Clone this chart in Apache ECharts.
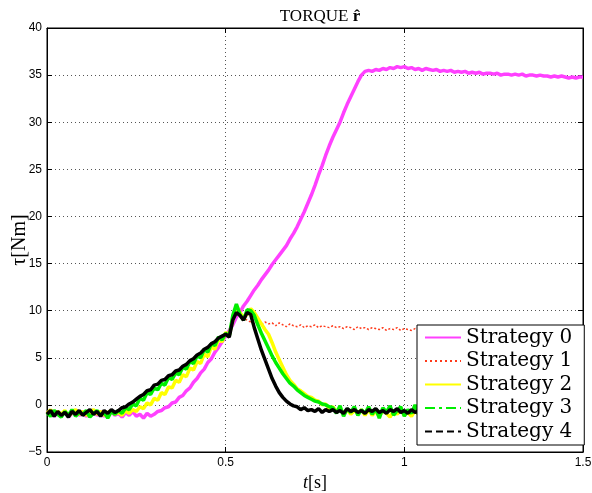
<!DOCTYPE html>
<html>
<head>
<meta charset="utf-8">
<script src="https://cdn.jsdelivr.net/npm/echarts@6/dist/echarts.min.js"></script>
<style>html,body{margin:0;padding:0;background:#fff}#c{width:592px;height:493px}</style>
</head>
<body>
<div id="c"></div>
<script>
// time step of samples (s)
const dt = 0.01;
const seriesNames = ['Strategy 0','Strategy 1','Strategy 2','Strategy 3','Strategy 4'];
const xTicks = [0, 0.5, 1, 1.5];
const yTicks = [-5, 0, 5, 10, 15, 20, 25, 30, 35, 40];

const s0 = [
-1.0,-0.6,-1.2,-0.8,-1.1,-0.7,-1.3,-0.9,-0.6,-1.1,
-0.8,-1.2,-0.9,-0.6,-1.1,-0.8,-1.2,-0.9,-0.7,-1.1,
-0.9,-1.3,-0.8,-1.1,-0.7,-1.2,-1.0,-1.4,-0.9,-1.2,
-1.0,-0.7,-0.6,-0.3,-0.2,0.2,0.3,0.8,1.0,1.5,
1.8,2.4,2.8,3.4,3.8,4.5,4.9,5.6,6.1,6.7,
7.3,7.9,8.5,9.3,9.8,10.5,11.0,11.6,12.2,12.7,
13.3,13.8,14.3,14.9,15.4,15.9,16.4,16.9,17.6,18.2,
18.9,19.7,20.5,21.4,22.3,23.3,24.4,25.4,26.5,27.5,
28.4,29.2,30.0,31.0,31.9,32.7,33.5,34.3,35.0,35.4,
35.5,35.4,35.6,35.5,35.7,35.6,35.8,35.7,35.9,35.8,
35.9,35.7,35.8,35.6,35.7,35.5,35.7,35.6,35.5,35.6,
35.4,35.5,35.4,35.5,35.3,35.4,35.3,35.4,35.2,35.3,
35.2,35.3,35.1,35.2,35.2,35.1,35.2,35.0,35.1,35.1,
35.0,35.1,35.0,35.1,34.9,35.0,35.0,34.9,35.0,34.9,
34.9,34.8,34.9,34.8,34.9,34.8,34.7,34.8,34.7,34.8,34.8
];
const s1 = [
-0.9,-1.1,-0.7,-1.0,-1.2,-0.8,-1.0,-0.6,-1.1,-0.9,
-0.9,-0.7,-1.2,-0.8,-0.7,-1.0,-0.9,-1.2,-0.8,-0.9,
-0.7,-0.8,-0.4,-0.4,0.0,0.0,0.6,0.6,1.2,1.2,
1.7,1.7,2.2,2.2,2.8,2.8,3.3,3.3,3.9,3.9,
4.5,4.5,5.1,5.1,5.7,5.7,6.4,6.4,7.0,7.0,
7.5,7.5,9.2,10.0,9.5,9.2,
9.0,8.8,8.6,8.9,
8.5,8.8,8.6,8.7,8.4,8.7,8.5,8.3,8.6,8.4,
8.3,8.5,8.2,8.4,8.3,8.5,8.2,8.4,8.3,8.2,
8.4,8.2,8.3,8.1,8.3,8.2,8.0,8.3,8.1,8.2,
8.0,8.2,8.1,8.0,8.2,7.9,8.1,8.0,8.2,7.9,
8.1,8.0,7.9,8.1,8.0,8.2,7.9,8.0,8.1,7.9,
8.1,8.0,8.2,7.9,8.1,8.0,7.9,8.1,8.0,8.2,
8.0,8.1,7.9,8.0,8.2,8.0,8.1,7.9,8.1,8.0,
8.2,8.0,8.1,7.9,8.1,8.2,8.0,8.1,8.0,8.2,
8.1,8.0,8.2,8.1,8.0,8.2,8.1,8.3,8.1,8.2,8.3
];
const s2 = [
-0.9,-0.5,-1.1,-0.7,-1.0,-0.6,-1.2,-0.8,-0.5,-1.0,
-0.7,-1.1,-0.8,-0.5,-1.0,-0.7,-1.1,-0.8,-0.6,-1.0,
-0.8,-1.1,-0.6,-0.9,-0.5,-0.7,-0.2,-0.4,0.2,0.0,
0.7,0.5,1.3,1.1,1.9,1.8,2.6,2.4,3.2,3.0,
3.9,3.7,4.6,4.4,5.4,5.1,6.2,5.9,7.0,6.7,
7.7,7.4,9.0,10.5,9.8,9.3,9.6,10.2,9.8,9.2,
8.6,8.0,7.5,6.6,5.6,4.8,4.0,3.2,2.6,2.2,
1.7,1.5,1.2,0.9,0.8,0.5,0.4,0.0,0.1,-0.4,
-0.2,-0.7,-0.4,-0.9,-0.5,-1.0,-0.6,-0.9,-0.5,-1.1,
-0.5,-1.1,-0.7,-1.2,-0.6,-0.9,-1.3,-0.6,-1.0,-0.5,
-1.1,-0.8,-1.2,-0.6,-1.0,-0.7,-1.3,-0.8,-0.5,-1.1,
-0.7,-1.0,-0.6,-1.2,-0.8,-1.1,-0.5,-0.9,-1.2,-0.7,
-1.0,-0.6,-1.1,-0.8,-1.3,-0.7,-1.0,-0.5,-1.1,-0.8,
-1.2,-0.6,-0.9,-1.1,-0.7,-1.0,-0.6,-1.2,-0.8,-0.5,
-1.1,-0.7,-1.0,-0.6,-1.2,-0.8,-1.0,-0.6,-1.1,-0.8,-0.9
];
const s3 = [
-0.8,-1.2,-0.6,-1.0,-1.3,-0.7,-1.1,-0.5,-1.2,-0.8,
-1.0,-0.6,-1.3,-0.9,-0.6,-1.1,-0.8,-1.4,-0.7,-1.0,
-0.6,-0.9,-0.3,-0.5,0.1,-0.1,0.7,0.5,1.3,1.1,
1.8,1.6,2.3,2.1,2.9,2.7,3.4,3.2,4.0,3.8,
4.6,4.4,5.2,5.0,5.9,5.6,6.5,6.3,7.2,6.9,
7.6,7.3,9.5,10.7,9.6,9.0,10.1,10.0,9.5,8.5,
7.6,6.8,6.0,5.2,4.5,3.9,3.3,2.8,2.3,2.0,
1.6,1.3,1.0,0.8,0.6,0.4,0.3,0.1,0.0,-0.2,
-0.3,-0.9,-0.1,-1.2,-0.4,-0.8,-0.2,-1.1,-0.5,-0.9,
-0.2,-1.0,-0.4,-1.4,-0.3,-0.8,-0.1,-1.1,-0.6,-0.2,
-1.2,-0.5,-0.9,0.0,-1.0,-0.4,-1.3,-0.6,-0.2,-1.0,
-0.5,-1.5,-0.3,-0.8,0.1,-1.1,-0.4,-0.9,-0.2,-1.2,
-0.6,-0.1,-1.0,-0.5,-1.3,-0.3,-0.8,0.0,-1.1,-0.4,
-0.9,-0.2,-1.2,-0.6,-0.3,-1.0,-0.5,-1.4,-0.2,-0.8,
-0.4,-1.1,-0.1,-0.9,-0.5,-1.2,-0.3,-0.8,-0.6,-1.0,-0.5
];
const s4 = [
-1.0,-0.6,-1.2,-0.7,-1.1,-0.8,-1.3,-0.7,-1.0,-0.6,
-1.1,-0.8,-0.5,-1.0,-0.7,-1.2,-0.6,-0.9,-0.5,-0.8,
-0.6,-0.3,-0.2,0.1,0.3,0.6,0.9,1.1,1.5,1.6,
2.1,2.2,2.6,2.7,3.1,3.2,3.6,3.7,4.1,4.3,
4.7,4.9,5.3,5.5,5.9,6.1,6.5,6.7,7.1,7.3,
7.5,7.2,9.0,9.8,9.5,9.0,9.8,9.6,8.2,7.0,
5.8,4.8,3.8,2.8,2.0,1.3,0.8,0.4,0.1,-0.1,
-0.2,-0.5,-0.3,-0.6,-0.5,-0.7,-0.4,-0.8,-0.5,-0.7,
-0.5,-0.8,-0.6,-0.9,-0.4,-0.7,-0.5,-0.8,-0.6,-0.9,
-0.5,-0.7,-0.4,-0.8,-0.6,-0.9,-0.5,-0.7,-0.4,-0.8,
-0.6,-0.9,-0.5,-0.8,-0.6,-0.7,-0.4,-0.8,-0.5,-0.9,
-0.6,-0.7,-0.5,-0.8,-0.4,-0.9,-0.6,-0.7,-0.5,-0.8,
-0.6,-0.9,-0.5,-0.7,-0.4,-0.8,-0.6,-0.9,-0.5,-0.7,
-0.6,-0.8,-0.4,-0.9,-0.5,-0.7,-0.6,-0.8,-0.5,-0.9,
-0.6,-0.7,-0.5,-0.8,-0.6,-0.9,-0.7,-0.8,-0.6,-0.9,-0.7
];
const allValues = [s0, s1, s2, s3, s4];

const colors = ['#ff40ff', '#ff3a1a', '#ffff00', '#00ee00', '#000000'];
const plotTypes = ['solid', [2, 2], 'solid', 'solid', 'solid'];
const legendTypes = ['solid', [2, 3], 'solid', [10, 4, 3, 4], [7, 4]];

const toPairs = arr => arr.map((v, i) => [Math.round(i * dt * 100) / 100, v]);

const chart = echarts.init(document.getElementById('c'), null, {renderer: 'canvas'});
const fmtY = v => (v < 0 ? '\u2212' + Math.abs(v) : String(v));

const mkAxisLine = () => ({show: true, onZero: false, lineStyle: {color: '#000', width: 1}});
const mkTick = () => ({show: true, inside: true, length: 5, lineStyle: {color: '#000'}});

chart.setOption({
  animation: false,
  backgroundColor: '#fff',
  title: {
    text: 'TORQUE {b|r\u0302}',
    left: 315, top: 3, textAlign: 'center',
    textStyle: {
      fontFamily: 'Liberation Serif', fontSize: 17, fontWeight: 'normal', color: '#000',
      rich: {b: {fontFamily: 'Liberation Serif', fontSize: 17, fontWeight: 'bold', color: '#000'}}
    }
  },
  grid: {left: 47, right: 9, top: 28, bottom: 41, containLabel: false, outerBoundsMode: 'none',
    show: true, borderColor: '#000', borderWidth: 1, backgroundColor: '#fff'},
  legend: {
    orient: 'vertical', left: 417, top: 325, z: 100, zlevel: 0,
    backgroundColor: '#fff', borderColor: '#000', borderWidth: 1,
    padding: [1, 12, 2, 7], itemGap: 0.5, itemWidth: 36, itemHeight: 14,
    textStyle: {fontFamily: 'DejaVu Serif', fontSize: 20, color: '#000', lineHeight: 23},
    data: seriesNames.map((n, i) => ({
      name: n,
      itemStyle: {opacity: 0, color: 'rgba(0,0,0,0)', borderWidth: 0},
      lineStyle: {type: legendTypes[i], width: 2, color: colors[i]}
    }))
  },
  xAxis: [
    {
      type: 'value', min: 0, max: 1.5, interval: 0.5, position: 'bottom',
      axisLine: mkAxisLine(), axisTick: mkTick(),
      name: '{i|t}[s]', nameLocation: 'middle', nameGap: 15,
      nameTextStyle: {fontFamily: 'Liberation Serif', fontSize: 18, color: '#000',
        rich: {i: {fontFamily: 'Liberation Serif', fontStyle: 'italic', fontSize: 18, color: '#000'}}},
      axisLabel: {color: '#000', fontFamily: 'Liberation Sans', fontSize: 12, margin: 5,
        formatter: v => (xTicks.indexOf(v) >= 0 ? String(v) : '')},
      splitLine: {show: true, lineStyle: {color: '#555', type: [1, 3], width: 1}}
    },
    {
      type: 'value', min: 0, max: 1.5, interval: 0.5, position: 'top',
      axisLine: mkAxisLine(), axisTick: mkTick(),
      axisLabel: {show: false}, splitLine: {show: false}
    }
  ],
  yAxis: [
    {
      type: 'value', min: -5, max: 40, interval: 5, position: 'left',
      axisLine: mkAxisLine(), axisTick: mkTick(),
      name: '\u03c4[Nm]', nameLocation: 'middle', nameGap: 17, nameMoveOverlap: false,
      nameTextStyle: {fontFamily: 'Liberation Serif', fontSize: 20, color: '#000'},
      axisLabel: {color: '#000', fontFamily: 'Liberation Sans', fontSize: 12, margin: 5,
        formatter: v => (yTicks.indexOf(v) >= 0 ? fmtY(v) : '')},
      splitLine: {show: true, lineStyle: {color: '#555', type: [1, 3], width: 1}}
    },
    {
      type: 'value', min: -5, max: 40, interval: 5, position: 'right',
      axisLine: mkAxisLine(), axisTick: mkTick(),
      axisLabel: {show: false}, splitLine: {show: false}
    }
  ],
  series: allValues.map((vals, i) => ({
    name: seriesNames[i],
    type: 'line',
    xAxisIndex: 0, yAxisIndex: 0,
    data: toPairs(vals),
    symbol: 'none',
    showSymbol: false,
    color: colors[i],
    lineStyle: {color: colors[i], width: i === 1 ? 1.5 : 3.5, type: plotTypes[i]},
    z: 2 + i
  }))
});
</script>
</body>
</html>
